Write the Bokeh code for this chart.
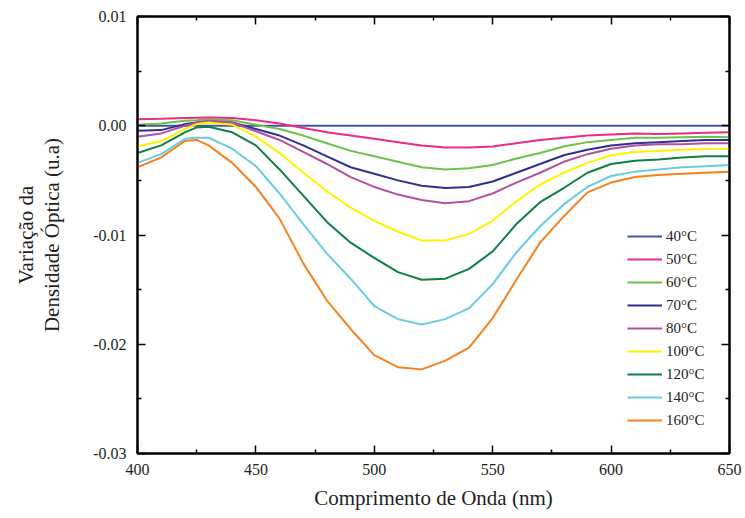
from bokeh.plotting import figure
from bokeh.models import Range1d, LinearAxis, FixedTicker, Legend, LegendItem
from bokeh.embed import file_html
from bokeh.resources import INLINE

wavelength = [400, 410, 420, 425, 430, 440, 450, 460, 470, 480, 490, 500, 510, 520,
              530, 540, 550, 560, 570, 580, 590, 600, 610, 620, 630, 640, 650]

t40 = [0.0] * 27
t50 = [0.0006, 0.00064, 0.0007, 0.00073, 0.00076, 0.0007, 0.0005, 0.0002, -0.0002, -0.0006, -0.0009,
       -0.0012, -0.0015, -0.0018, -0.002, -0.002, -0.0019, -0.0016, -0.0013, -0.0011, -0.0009,
       -0.0008, -0.0007, -0.00075, -0.0007, -0.00065, -0.0006]
t60 = [0.0001, 0.0002, 0.00046, 0.0005, 0.00058, 0.0005, 0.0001, -0.0003, -0.0009, -0.0016, -0.0023,
       -0.0028, -0.0033, -0.0038, -0.004, -0.0039, -0.0036, -0.003, -0.0025, -0.0019, -0.0015,
       -0.0013, -0.0011, -0.0011, -0.00105, -0.001, -0.00105]
t70 = [-0.00046, -0.0004, 0.00015, 0.0003, 0.0004, 0.0003, -0.0003, -0.0009, -0.0018, -0.0028, -0.0038,
       -0.0044, -0.005, -0.0055, -0.0057, -0.0056, -0.0051, -0.0043, -0.0035, -0.0027, -0.0022,
       -0.0018, -0.0016, -0.0015, -0.0014, -0.0013, -0.0013]
t80 = [-0.001, -0.0007, 0.0, 0.0003, 0.00046, 0.0003, -0.0005, -0.0013, -0.0024, -0.0035, -0.0047,
       -0.0056, -0.0063, -0.0068, -0.0071, -0.0069, -0.0062, -0.0052, -0.0043, -0.0033, -0.0026,
       -0.0021, -0.0018, -0.0017, -0.0017, -0.0016, -0.0016]
t100 = [-0.0019, -0.0014, -0.0003, 0.00015, 0.0003, 0.0001, -0.001, -0.0025, -0.0043, -0.006, -0.0075,
        -0.0087, -0.0097, -0.0105, -0.0105, -0.0099, -0.0087, -0.0069, -0.0054, -0.0043, -0.0034,
        -0.0027, -0.0024, -0.0023, -0.0022, -0.0021, -0.0021]
t120 = [-0.0025, -0.0018, -0.0006, -0.00015, -0.0001, -0.0006, -0.0018, -0.004, -0.0064, -0.0088, -0.0107,
        -0.0121, -0.0134, -0.0141, -0.014, -0.0131, -0.0115, -0.009, -0.007, -0.0057, -0.0043,
        -0.0035, -0.0032, -0.0031, -0.0029, -0.0028, -0.0028]
t140 = [-0.0034, -0.0026, -0.0012, -0.0011, -0.0011, -0.0021, -0.0037, -0.0062, -0.009, -0.0117, -0.014,
        -0.0165, -0.0177, -0.0182, -0.0177, -0.0167, -0.0145, -0.0116, -0.0092, -0.0072, -0.0056,
        -0.0046, -0.0042, -0.004, -0.0038, -0.0037, -0.0036]
t160 = [-0.0038, -0.0029, -0.0014, -0.0013, -0.0018, -0.0034, -0.0056, -0.0085, -0.0126, -0.016, -0.0186,
        -0.021, -0.0221, -0.0223, -0.0215, -0.0203, -0.0176, -0.0141, -0.0107, -0.0083, -0.0061,
        -0.0052, -0.0047, -0.0045, -0.0044, -0.0043, -0.0042]

series_labels = ["40°C", "50°C", "60°C", "70°C", "80°C", "100°C", "120°C", "140°C", "160°C"]
series_values = [t40, t50, t60, t70, t80, t100, t120, t140, t160]
colors = ["#4357A6", "#EC2C82", "#6DC247", "#2E3192", "#B251A0", "#FFF200",
          "#0F7F45", "#6ACCE0", "#F5821F"]

x_ticks = [400, 450, 500, 550, 600, 650]
y_ticks = [-0.03, -0.02, -0.01, 0.0, 0.01]
y_tick_labels = ["-0.03", "-0.02", "-0.01", "0.00", "0.01"]

FONT = "Liberation Serif"

p = figure(width=745, height=518, output_backend="svg", toolbar_location=None,
           x_range=Range1d(400, 650), y_range=Range1d(-0.03, 0.01),
           min_border_left=137, min_border_right=16, min_border_top=16, min_border_bottom=65)
p.grid.visible = False
p.outline_line_color = "black"
p.outline_line_width = 2
p.background_fill_color = "white"
p.border_fill_color = "white"

x_minor = [(a + b) / 2 for a, b in zip(x_ticks[:-1], x_ticks[1:])]
y_minor = [(a + b) / 2 for a, b in zip(y_ticks[:-1], y_ticks[1:])]

def style_axis(ax, show_labels):
    ax.axis_line_color = "black"
    ax.axis_line_width = 2
    ax.major_tick_in = 8
    ax.major_tick_out = 0
    ax.minor_tick_in = 4
    ax.minor_tick_out = 0
    ax.major_tick_line_width = 1.5
    ax.minor_tick_line_width = 1.5
    ax.major_tick_line_color = "black"
    ax.minor_tick_line_color = "black"
    ax.major_label_text_font = FONT
    ax.major_label_text_color = "#231F20"
    ax.axis_label_text_font = FONT
    ax.axis_label_text_font_style = "normal"
    ax.axis_label_text_color = "#231F20"
    if not show_labels:
        ax.major_label_text_font_size = "1px"
        ax.major_label_text_color = None
        ax.major_label_standoff = 0

xa = p.xaxis[0]
xa.ticker = FixedTicker(ticks=x_ticks, minor_ticks=x_minor)
style_axis(xa, True)
xa.major_label_text_font_size = "16px"
xa.major_label_standoff = 10
xa.axis_label = "Comprimento de Onda (nm)"
xa.axis_label_text_font_size = "21px"
xa.axis_label_standoff = 8

ya = p.yaxis[0]
ya.ticker = FixedTicker(ticks=y_ticks, minor_ticks=y_minor)
ya.major_label_overrides = {t: s for t, s in zip(y_ticks, y_tick_labels)}
style_axis(ya, True)
ya.major_label_text_font_size = "16px"
ya.major_label_standoff = 11
ya.axis_label = "Densidade Óptica (u.a)"
ya.axis_label_text_font_size = "21px"
ya.axis_label_standoff = 26

ya2 = LinearAxis(ticker=FixedTicker(ticks=[]), axis_label="Variação da")
ya2.axis_line_color = None
ya2.major_tick_line_color = None
ya2.minor_tick_line_color = None
ya2.major_label_text_font_size = "1px"
ya2.major_label_text_color = None
ya2.axis_label_text_font = FONT
ya2.axis_label_text_font_style = "normal"
ya2.axis_label_text_font_size = "21px"
ya2.axis_label_text_color = "#231F20"
ya2.axis_label_standoff = 0
p.add_layout(ya2, "left")

top = LinearAxis(ticker=FixedTicker(ticks=x_ticks, minor_ticks=x_minor))
style_axis(top, False)
p.add_layout(top, "above")
right = LinearAxis(ticker=FixedTicker(ticks=y_ticks, minor_ticks=y_minor))
style_axis(right, False)
p.add_layout(right, "right")

items = []
for lab, vals, col in zip(series_labels, series_values, colors):
    r = p.line(wavelength, vals, line_color=col, line_width=2)
    items.append(LegendItem(label=lab, renderers=[r]))

legend = Legend(items=items, location=(490, 22))
legend.border_line_color = None
legend.background_fill_alpha = 0
legend.label_text_font = FONT
legend.label_text_font_size = "15px"
legend.label_text_color = "#231F20"
legend.glyph_width = 35
legend.glyph_height = 22
legend.label_height = 22
legend.label_standoff = 4
legend.spacing = 1
legend.padding = 5
legend.margin = 0
p.add_layout(legend, "center")

open("out.html", "w").write(file_html(p, INLINE))
